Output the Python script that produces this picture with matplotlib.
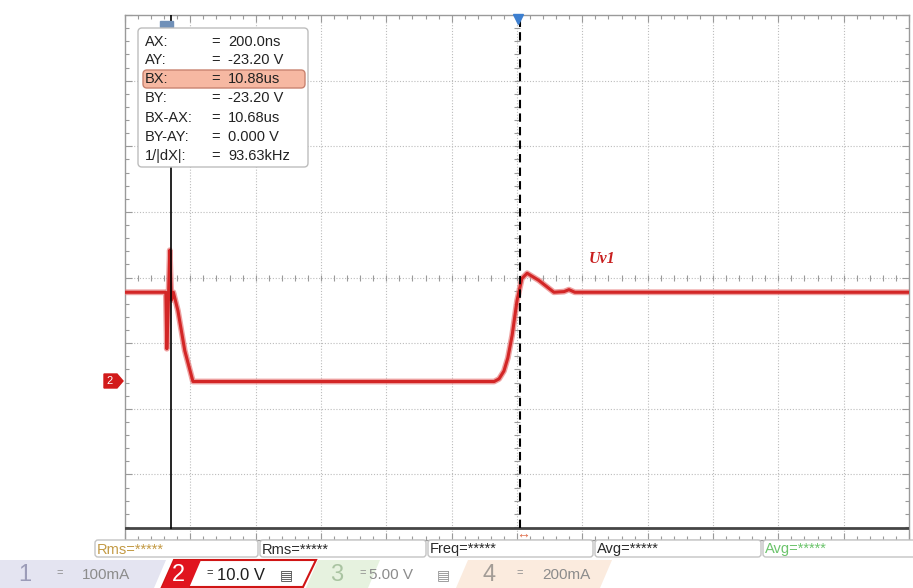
import numpy as np
import matplotlib.pyplot as plt
from matplotlib.patches import FancyBboxPatch, Polygon, Rectangle

plt.rcParams['font.family'] = ['Liberation Sans', 'DejaVu Sans']

# waveform Uv1 (time in us, voltage in V)
t_us = [-1.2, 0.05, 0.08, 0.12, 0.17, 0.22, 0.28, 0.42, 0.63, 0.88,
        10.10, 10.25, 10.40, 10.52, 10.65, 10.80, 10.95, 11.11, 11.47,
        11.93, 12.24, 12.39, 12.57, 22.8]
v_volt = [-9.6, -9.6, -18.2, -12.4, -3.2, -10.8, -9.6, -12.4, -18.5, -23.2,
          -23.2, -22.8, -21.6, -19.6, -16.2, -10.9, -7.5, -6.7, -7.8,
          -9.6, -9.5, -9.2, -9.6, -9.6]

cursor_a = 0.2
cursor_b = 10.88
readout_labels = ["AX:", "AY:", "BX:", "BY:", "BX-AX:", "BY-AY:", "1/|dX|:"]
readout_values = ["200.0ns", "-23.20 V", "10.88us", "-23.20 V", "10.68us",
                  "0.000 V", "93.63kHz"]
meas_labels = ["Rms=*****", "Rms=*****", "Freq=*****", "Avg=*****", "Avg=*****"]
meas_colors = ["#c39a45", "#2a2a2a", "#2a2a2a", "#2a2a2a", "#6cc46c"]
ch_names = ["1", "2", "3", "4"]
ch_scales = ["100mA", "10.0 V", "5.00 V", "200mA"]

# screen setup: 12 x 8 divisions, 2 us/div, 10 V/div
t_left = -1.2
t_div = 2.0
v_center = -7.35
v_div = 10.0

W, H = 913, 588
fig = plt.figure(figsize=(W / 100, H / 100), dpi=100)
fig.patch.set_facecolor("white")

L, R, T, B = 125, 909, 15, 540
ax = fig.add_axes([L / W, (H - B) / H, (R - L) / W, (B - T) / H])
x0, x1 = t_left, t_left + 12 * t_div
y0, y1 = v_center - 4 * v_div, v_center + 4 * v_div
ax.set_xlim(x0, x1)
ax.set_ylim(y0, y1)

xmaj = x0 + t_div * np.arange(13)
ymaj = y0 + v_div * np.arange(9)
xmin = x0 + t_div / 5 * np.arange(61)
ymin = y0 + v_div / 5 * np.arange(41)
ax.set_xticks(xmaj)
ax.set_yticks(ymaj)
ax.set_xticks(xmin, minor=True)
ax.set_yticks(ymin, minor=True)
ax.set_xticklabels([])
ax.set_yticklabels([])
ax.tick_params(which="both", direction="in", top=True, right=True,
               color="#9a9a9a", width=0.8)
ax.tick_params(which="major", length=5)
ax.tick_params(which="minor", length=3)
for s in ax.spines.values():
    s.set_color("#9a9a9a")
    s.set_linewidth(1)

grid_kw = dict(color="#bcbcbc", lw=0.8, linestyle=(0, (1, 1.6)), zorder=1)
for x in xmaj[1:-1]:
    ax.axvline(x, **grid_kw)
for y in ymaj[1:-1]:
    ax.axhline(y, **grid_kw)

# small ticks along the centre lines
ax.plot(xmin, np.full(len(xmin), v_center), ls="none", marker="|",
        ms=5, mew=0.8, color="#9a9a9a", zorder=1)
ax.plot(np.full(len(ymin), x0 + 6 * t_div), ymin, ls="none", marker="_",
        ms=5, mew=0.8, color="#9a9a9a", zorder=1)

# bottom edge of the waveform area
y_floor = v_center - 3.81 * v_div
ax.axhline(y_floor, color="#454545", lw=2, zorder=3)

# trace
ax.plot(t_us, v_volt, color="#e77b7b", lw=4.2, alpha=0.7, zorder=4,
        solid_joinstyle="round")
ax.plot(t_us, v_volt, color="#d32626", lw=2.2, zorder=5,
        solid_joinstyle="round")
ax.text(12.98, -5.2, "Uv1", color="#c81e1e", fontsize=11.5,
        family="Liberation Serif", style="italic", weight="bold", zorder=6)

# cursors
ax.plot([cursor_a, cursor_a], [y_floor, y1], color="black", lw=1.2, zorder=6)
ax.plot([cursor_b, cursor_b], [y_floor, y1 - 0.6], color="black", lw=1.5,
        dashes=(4, 2.5), zorder=6)
ax.plot(cursor_b - 0.05, y1 - 0.6, marker="v", ms=7, color="#3d7fd0",
        clip_on=False, zorder=7)

# overlay in pixel coordinates for the screen furniture
ov = fig.add_axes([0, 0, 1, 1], zorder=5)
ov.set_xlim(0, W)
ov.set_ylim(H, 0)
ov.axis("off")
ov.patch.set_alpha(0)

ov.add_patch(Rectangle((160, 21), 13, 6, color="#7090b8"))
ov.text(523, 534, "\u2194", color="#e0704e", fontsize=10, ha="center",
        va="center")

# channel 2 ground marker
ov.add_patch(Polygon([(104, 374), (117, 374), (123, 381), (117, 388),
                      (104, 388)], closed=True, color="#d21a1a"))
ov.text(110, 381.5, "2", color="white", fontsize=8, ha="center", va="center")

# cursor readout box
ov.add_patch(FancyBboxPatch((138, 28), 170, 139,
                            boxstyle="round,pad=0,rounding_size=4",
                            fc="white", ec="#bdbdbd", lw=1))
ov.add_patch(FancyBboxPatch((143, 70), 162, 18,
                            boxstyle="round,pad=0,rounding_size=4",
                            fc="#f6b8a2", ec="#c98370", lw=1))
row_y = [42, 60, 79, 98, 118, 137, 156]
for lab, val, y in zip(readout_labels, readout_values, row_y):
    ov.text(145, y, lab, fontsize=10.5, color="#222222", va="center")
    ov.text(211, y, "=", fontsize=10.5, color="#222222", va="center")
    ov.text(228, y, val, fontsize=10.5, color="#222222", va="center")

# measurement boxes
box_x = [95, 260, 428, 595, 763]
box_w = [163, 166, 165, 166, 160]
for bx, bw, lab, c in zip(box_x, box_w, meas_labels, meas_colors):
    ov.add_patch(FancyBboxPatch((bx, 540), bw, 17,
                                boxstyle="round,pad=0,rounding_size=3",
                                fc="white", ec="#c4c4c4", lw=1))
    ov.text(bx + 2, 549.5, lab, fontsize=10.5, color=c, va="center")

# channel bar
ov.add_patch(Polygon([(0, 560), (166, 560), (154, 588), (0, 588)],
                     fc="#e4e4f1", ec="none", hatch="\\\\\\\\"))
ov.add_patch(Polygon([(318, 560), (380, 560), (368, 588), (306, 588)],
                     fc="#e6f2df", ec="none"))
ov.add_patch(Polygon([(468, 560), (612, 560), (600, 588), (456, 588)],
                     fc="#fbebde", ec="none"))
ov.add_patch(Polygon([(174, 560), (316, 560), (303, 587), (162, 587)],
                     fc="none", ec="#d01515", lw=1.5))
ov.add_patch(Polygon([(174, 560), (201, 560), (189, 588), (162, 588)],
                     fc="#e0141e", ec="none"))

num_x = [25, 178, 337, 489]
num_c = ["#9c9cb8", "white", "#aac4a2", "#a39c96"]
for name, x, c in zip(ch_names, num_x, num_c):
    ov.text(x, 575, name, fontsize=17, color=c, ha="center", va="center")

eq_x = [60, 210, 363, 520]
sc_x = [82, 217, 369, 542]
sc_c = ["#8c8c8c", "#1e1e1e", "#8c8c8c", "#8c8c8c"]
sc_fs = [11, 12, 11, 11]
for ex, sx, txt, c, fs in zip(eq_x, sc_x, ch_scales, sc_c, sc_fs):
    ov.text(ex, 573, "=", fontsize=8, color=c, ha="center", va="center")
    ov.text(sx, 575, txt, fontsize=fs, color=c, va="center")
ov.text(286, 575, "\u25a4", fontsize=10, color="#444444", ha="center",
        va="center")
ov.text(443, 575, "\u25a4", fontsize=10, color="#8c8c8c", ha="center",
        va="center")

fig.savefig("out.png", dpi=100)
